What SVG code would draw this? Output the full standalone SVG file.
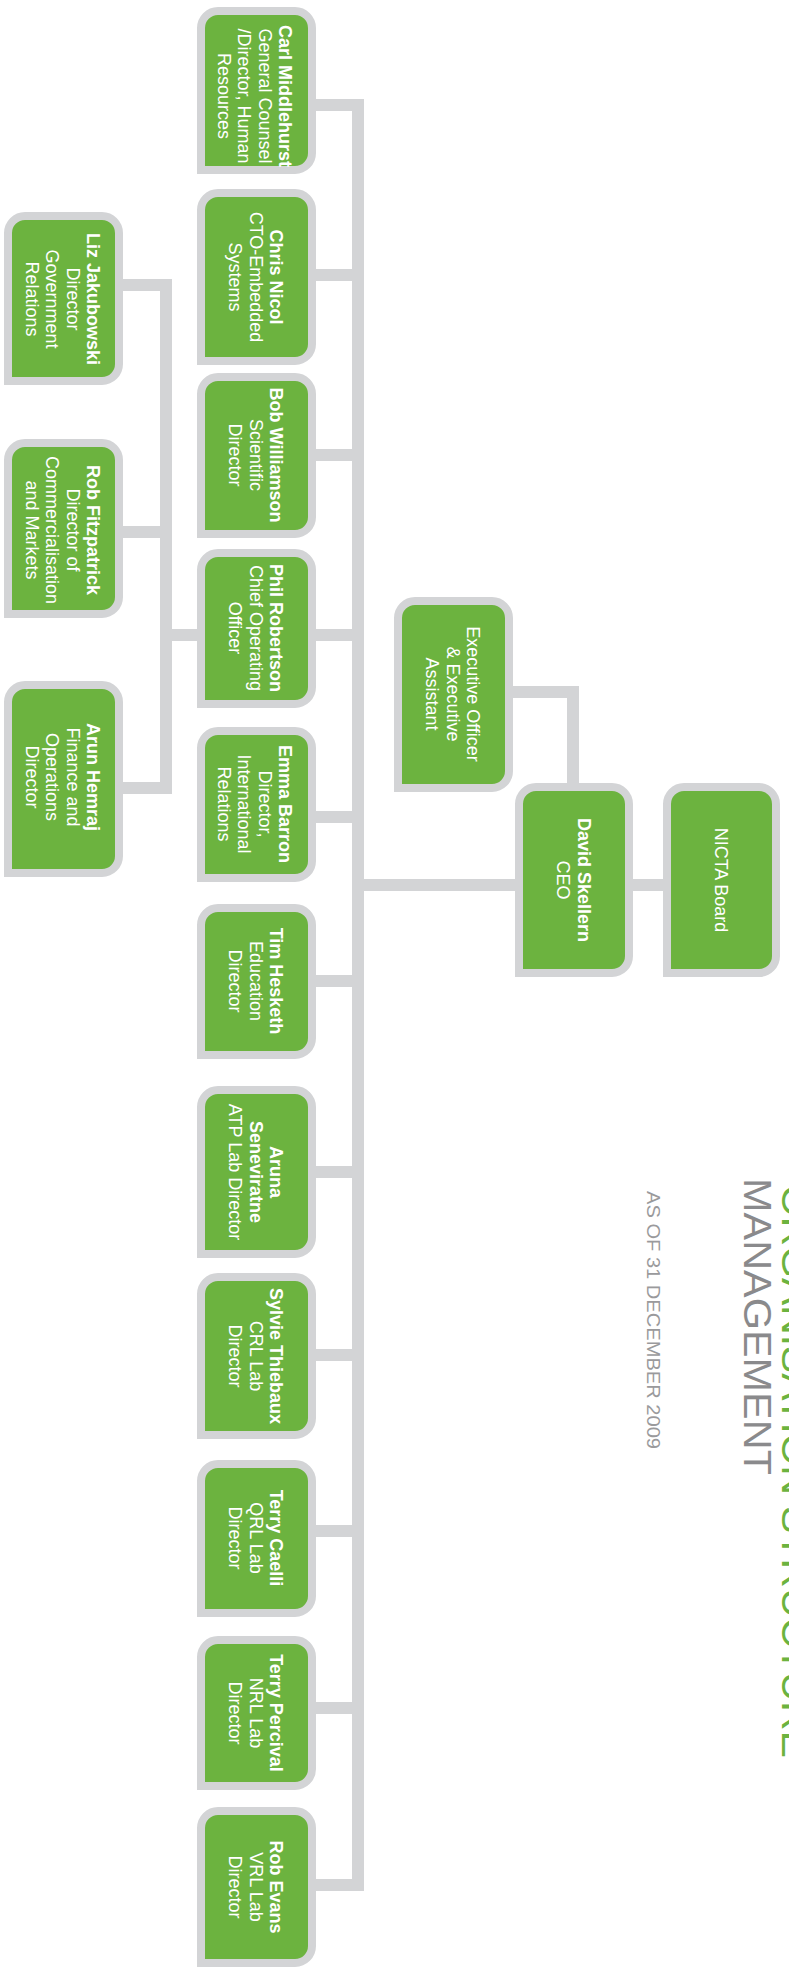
<svg xmlns="http://www.w3.org/2000/svg" width="789" height="1977" viewBox="0 0 789 1977">
<style>
.box{fill:#6cb33f;stroke:#d3d4d6;stroke-width:8;stroke-linejoin:miter}
.con{fill:none;stroke:#d3d4d6;stroke-width:12;stroke-linejoin:miter;stroke-linecap:butt}
.t{font-family:"Liberation Sans",Arial,sans-serif;font-size:18px;fill:#ffffff;text-anchor:middle}
.n{font-weight:700}
</style>
<rect width="789" height="1977" fill="#ffffff"/>
<g id="title">
<text transform="translate(782,1185) rotate(90)" font-family="Liberation Sans,Arial,sans-serif" font-size="38" fill="#6cb33f" textLength="573" lengthAdjust="spacingAndGlyphs">ORGANISATION STRUCTURE</text>
<text transform="translate(744,1178) rotate(90)" font-family="Liberation Sans,Arial,sans-serif" font-size="38" fill="#8a8a8c" textLength="297" lengthAdjust="spacingAndGlyphs">MANAGEMENT</text>
<text transform="translate(647,1191) rotate(90)" font-family="Liberation Sans,Arial,sans-serif" font-size="18" fill="#9a9a9c" textLength="258" lengthAdjust="spacingAndGlyphs">AS OF 31 DECEMBER 2009</text>
</g>
<g id="connectors">
<path class="con" d="M316,105 H358 V1885 H316"/>
<path class="con" d="M316,275 H358 M316,455 H358 M316,635 H358 M316,817 H358 M316,981 H358 M316,1172 H358 M316,1355 H358 M316,1531 H358 M316,1708 H358"/>
<path class="con" d="M358,885 H515"/>
<path class="con" d="M633,885 H663"/>
<path class="con" d="M513,692 H573 V783"/>
<path class="con" d="M123,285 H166 V788 H123"/>
<path class="con" d="M123,532 H166 M166,635 H197"/>
</g>
<g id="carl">
<path class="box" d="M201,170 V28 A17,17 0 0 1 218,11 H295 A17,17 0 0 1 312,28 V153 A17,17 0 0 1 295,170 Z"/>
<text class="t" transform="translate(255,96) rotate(90)"><tspan class="n" x="0" y="-24.25">Carl Middlehurst</tspan><tspan x="0" dy="20.5">General Counsel</tspan><tspan x="0" dy="20.5">/Director, Human</tspan><tspan x="0" dy="20.5">Resources</tspan></text>
</g>
<g id="chris">
<path class="box" d="M201,361 V210 A17,17 0 0 1 218,193 H295 A17,17 0 0 1 312,210 V344 A17,17 0 0 1 295,361 Z"/>
<text class="t" transform="translate(256,277) rotate(90)"><tspan class="n" x="0" y="-14">Chris Nicol</tspan><tspan x="0" dy="20.5">CTO-Embedded</tspan><tspan x="0" dy="20.5">Systems</tspan></text>
</g>
<g id="bob">
<path class="box" d="M201,534 V394 A17,17 0 0 1 218,377 H295 A17,17 0 0 1 312,394 V517 A17,17 0 0 1 295,534 Z"/>
<text class="t" transform="translate(256,455) rotate(90)"><tspan class="n" x="0" y="-14">Bob Williamson</tspan><tspan x="0" dy="20.5">Scientific</tspan><tspan x="0" dy="20.5">Director</tspan></text>
</g>
<g id="phil">
<path class="box" d="M201,704 V570 A17,17 0 0 1 218,553 H295 A17,17 0 0 1 312,570 V687 A17,17 0 0 1 295,704 Z"/>
<text class="t" transform="translate(256,628) rotate(90)"><tspan class="n" x="0" y="-14">Phil Robertson</tspan><tspan x="0" dy="20.5">Chief Operating</tspan><tspan x="0" dy="20.5">Officer</tspan></text>
</g>
<g id="emma">
<path class="box" d="M201,878 V748 A17,17 0 0 1 218,731 H295 A17,17 0 0 1 312,748 V861 A17,17 0 0 1 295,878 Z"/>
<text class="t" transform="translate(255,804) rotate(90)"><tspan class="n" x="0" y="-24.25">Emma Barron</tspan><tspan x="0" dy="20.5">Director,</tspan><tspan x="0" dy="20.5">International</tspan><tspan x="0" dy="20.5">Relations</tspan></text>
</g>
<g id="tim">
<path class="box" d="M201,1055 V925 A17,17 0 0 1 218,908 H295 A17,17 0 0 1 312,925 V1038 A17,17 0 0 1 295,1055 Z"/>
<text class="t" transform="translate(256,981) rotate(90)"><tspan class="n" x="0" y="-14">Tim Hesketh</tspan><tspan x="0" dy="20.5">Education</tspan><tspan x="0" dy="20.5">Director</tspan></text>
</g>
<g id="aruna">
<path class="box" d="M201,1254 V1107 A17,17 0 0 1 218,1090 H295 A17,17 0 0 1 312,1107 V1237 A17,17 0 0 1 295,1254 Z"/>
<text class="t" transform="translate(256,1172) rotate(90)"><tspan class="n" x="0" y="-14">Aruna</tspan><tspan class="n" x="0" dy="20.5">Seneviratne</tspan><tspan x="0" dy="20.5">ATP Lab Director</tspan></text>
</g>
<g id="sylvie">
<path class="box" d="M201,1435 V1294 A17,17 0 0 1 218,1277 H295 A17,17 0 0 1 312,1294 V1418 A17,17 0 0 1 295,1435 Z"/>
<text class="t" transform="translate(256,1356) rotate(90)"><tspan class="n" x="0" y="-14">Sylvie Thiebaux</tspan><tspan x="0" dy="20.5">CRL Lab</tspan><tspan x="0" dy="20.5">Director</tspan></text>
</g>
<g id="terryc">
<path class="box" d="M201,1613 V1481 A17,17 0 0 1 218,1464 H295 A17,17 0 0 1 312,1481 V1596 A17,17 0 0 1 295,1613 Z"/>
<text class="t" transform="translate(256,1538) rotate(90)"><tspan class="n" x="0" y="-14">Terry Caelli</tspan><tspan x="0" dy="20.5">QRL Lab</tspan><tspan x="0" dy="20.5">Director</tspan></text>
</g>
<g id="terryp">
<path class="box" d="M201,1786 V1657 A17,17 0 0 1 218,1640 H295 A17,17 0 0 1 312,1657 V1769 A17,17 0 0 1 295,1786 Z"/>
<text class="t" transform="translate(256,1713) rotate(90)"><tspan class="n" x="0" y="-14">Terry Percival</tspan><tspan x="0" dy="20.5">NRL Lab</tspan><tspan x="0" dy="20.5">Director</tspan></text>
</g>
<g id="robevans">
<path class="box" d="M201,1963 V1828 A17,17 0 0 1 218,1811 H295 A17,17 0 0 1 312,1828 V1946 A17,17 0 0 1 295,1963 Z"/>
<text class="t" transform="translate(256,1887) rotate(90)"><tspan class="n" x="0" y="-14">Rob Evans</tspan><tspan x="0" dy="20.5">VRL Lab</tspan><tspan x="0" dy="20.5">Director</tspan></text>
</g>
<g id="liz">
<path class="box" d="M8,381 V233 A17,17 0 0 1 25,216 H102 A17,17 0 0 1 119,233 V364 A17,17 0 0 1 102,381 Z"/>
<text class="t" transform="translate(63,299) rotate(90)"><tspan class="n" x="0" y="-24.25">Liz Jakubowski</tspan><tspan x="0" dy="20.5">Director</tspan><tspan x="0" dy="20.5">Government</tspan><tspan x="0" dy="20.5">Relations</tspan></text>
</g>
<g id="robf">
<path class="box" d="M8,614 V460 A17,17 0 0 1 25,443 H102 A17,17 0 0 1 119,460 V597 A17,17 0 0 1 102,614 Z"/>
<text class="t" transform="translate(63,530) rotate(90)"><tspan class="n" x="0" y="-24.25">Rob Fitzpatrick</tspan><tspan x="0" dy="20.5">Director of</tspan><tspan x="0" dy="20.5">Commercialisation</tspan><tspan x="0" dy="20.5">and Markets</tspan></text>
</g>
<g id="arun">
<path class="box" d="M8,873 V702 A17,17 0 0 1 25,685 H102 A17,17 0 0 1 119,702 V856 A17,17 0 0 1 102,873 Z"/>
<text class="t" transform="translate(63,777) rotate(90)"><tspan class="n" x="0" y="-24.25">Arun Hemraj</tspan><tspan x="0" dy="20.5">Finance and</tspan><tspan x="0" dy="20.5">Operations</tspan><tspan x="0" dy="20.5">Director</tspan></text>
</g>
<g id="exec">
<path class="box" d="M398,788 V618 A17,17 0 0 1 415,601 H492 A17,17 0 0 1 509,618 V771 A17,17 0 0 1 492,788 Z"/>
<text class="t" transform="translate(453,694) rotate(90)"><tspan x="0" y="-14">Executive Officer</tspan><tspan x="0" dy="20.5">&amp; Executive</tspan><tspan x="0" dy="20.5">Assistant</tspan></text>
</g>
<g id="david">
<path class="box" d="M519,973 V804 A17,17 0 0 1 536,787 H612 A17,17 0 0 1 629,804 V956 A17,17 0 0 1 612,973 Z"/>
<text class="t" transform="translate(574,880) rotate(90)"><tspan class="n" x="0" y="-3.75">David Skellern</tspan><tspan x="0" dy="20.5">CEO</tspan></text>
</g>
<g id="nicta">
<path class="box" d="M667,973 V804 A17,17 0 0 1 684,787 H759 A17,17 0 0 1 776,804 V956 A17,17 0 0 1 759,973 Z"/>
<text class="t" transform="translate(721,880) rotate(90)"><tspan x="0" y="6.5">NICTA Board</tspan></text>
</g>
</svg>
